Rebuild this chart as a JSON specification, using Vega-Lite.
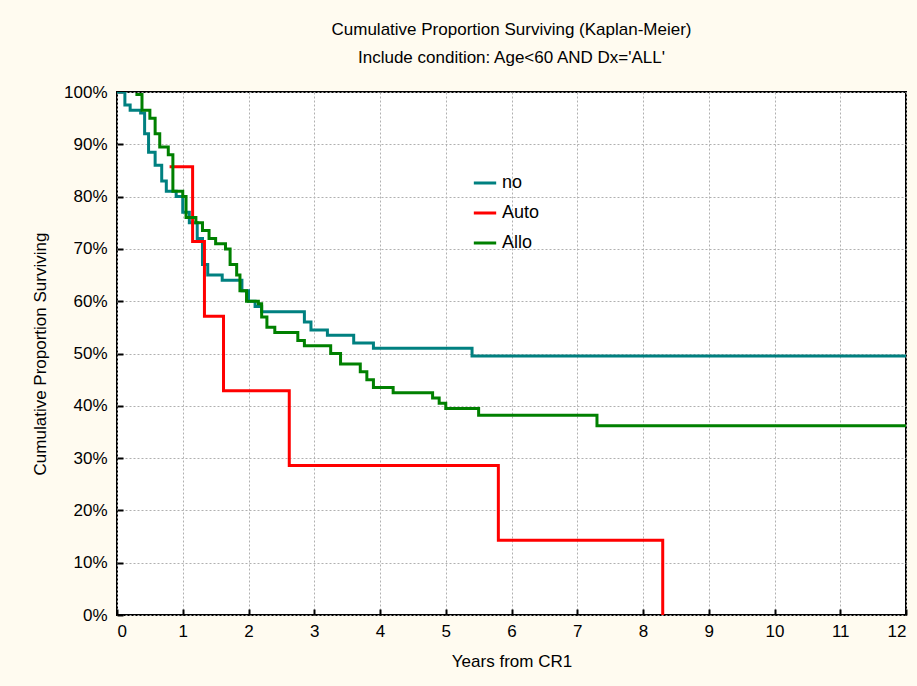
{
"$schema":"https://vega.github.io/schema/vega-lite/v6.json",
"width":789,"height":523,
"autosize":{"type":"none"},
"padding":{"left":117,"top":92,"right":11,"bottom":71},
"background":"#FFFBF0",
"config":{"view":{"stroke":"black","strokeWidth":2,"fill":"white"},"font":"Liberation Sans"},
"title":{"text":"Cumulative Proportion Surviving (Kaplan-Meier)","subtitle":"Include condition: Age<60 AND Dx='ALL'","fontSize":17,"fontWeight":"normal","subtitleFontSize":17,"color":"black","subtitleColor":"black","subtitlePadding":11,"offset":16,"anchor":"middle","font":"Liberation Sans","subtitleFont":"Liberation Sans"},
"data":{"values":[
{"g":"no","t":0,"s":100},{"g":"no","t":0.12,"s":97.5},{"g":"no","t":0.2,"s":96.5},{"g":"no","t":0.36,"s":96},{"g":"no","t":0.42,"s":92},{"g":"no","t":0.48,"s":88.5},{"g":"no","t":0.58,"s":86},{"g":"no","t":0.68,"s":83},{"g":"no","t":0.75,"s":81},{"g":"no","t":0.9,"s":80},{"g":"no","t":1.0,"s":77},{"g":"no","t":1.1,"s":75},{"g":"no","t":1.22,"s":72},{"g":"no","t":1.3,"s":67},{"g":"no","t":1.38,"s":65},{"g":"no","t":1.6,"s":64},{"g":"no","t":1.9,"s":62},{"g":"no","t":2.0,"s":60},{"g":"no","t":2.1,"s":59},{"g":"no","t":2.2,"s":58},{"g":"no","t":2.85,"s":56},{"g":"no","t":2.95,"s":54.5},{"g":"no","t":3.2,"s":53.5},{"g":"no","t":3.6,"s":52},{"g":"no","t":3.9,"s":51},{"g":"no","t":5.4,"s":49.5},{"g":"no","t":12,"s":49.5},
{"g":"Auto","t":0.8,"s":85.7},{"g":"Auto","t":1.15,"s":71.4},{"g":"Auto","t":1.33,"s":57.1},{"g":"Auto","t":1.62,"s":42.9},{"g":"Auto","t":2.62,"s":28.6},{"g":"Auto","t":5.8,"s":14.3},{"g":"Auto","t":8.3,"s":0},
{"g":"Allo","t":0.28,"s":99.5},{"g":"Allo","t":0.38,"s":96.5},{"g":"Allo","t":0.5,"s":95},{"g":"Allo","t":0.58,"s":92},{"g":"Allo","t":0.65,"s":89.5},{"g":"Allo","t":0.78,"s":88},{"g":"Allo","t":0.85,"s":81},{"g":"Allo","t":1.0,"s":80},{"g":"Allo","t":1.05,"s":76},{"g":"Allo","t":1.2,"s":75},{"g":"Allo","t":1.3,"s":73.5},{"g":"Allo","t":1.4,"s":72},{"g":"Allo","t":1.5,"s":71},{"g":"Allo","t":1.65,"s":70},{"g":"Allo","t":1.72,"s":67},{"g":"Allo","t":1.82,"s":65},{"g":"Allo","t":1.87,"s":62},{"g":"Allo","t":1.97,"s":60},{"g":"Allo","t":2.15,"s":59.5},{"g":"Allo","t":2.2,"s":57},{"g":"Allo","t":2.28,"s":55},{"g":"Allo","t":2.4,"s":54},{"g":"Allo","t":2.75,"s":52.5},{"g":"Allo","t":2.85,"s":51.5},{"g":"Allo","t":3.25,"s":50},{"g":"Allo","t":3.4,"s":48},{"g":"Allo","t":3.7,"s":46.5},{"g":"Allo","t":3.8,"s":45},{"g":"Allo","t":3.9,"s":43.5},{"g":"Allo","t":4.2,"s":42.5},{"g":"Allo","t":4.8,"s":41.5},{"g":"Allo","t":4.9,"s":40.5},{"g":"Allo","t":5.0,"s":39.5},{"g":"Allo","t":5.5,"s":38.2},{"g":"Allo","t":7.3,"s":36.2},{"g":"Allo","t":12,"s":36.2}
]},
"mark":{"type":"line","interpolate":"step-after","strokeWidth":3,"clip":true},
"encoding":{
"x":{"field":"t","type":"quantitative","scale":{"domain":[0,12],"nice":false},"axis":{"values":[0,1,2,3,4,5,6,7,8,9,10,11,12],"title":"Years from CR1","titleFontSize":17,"titleFontWeight":"normal","titlePadding":14,"labelFontSize":17,"labelPadding":14,"labelColor":"black","titleColor":"black","tickColor":"black","domain":false,"gridDash":[2,2],"gridColor":"#b0b0b0","tickSize":-6,"tickWidth":2}},
"y":{"field":"s","type":"quantitative","scale":{"domain":[0,100],"nice":false},"axis":{"values":[0,10,20,30,40,50,60,70,80,90,100],"labelExpr":"datum.value+'%'","title":"Cumulative Proportion Surviving","titleFontSize":17,"titleFontWeight":"normal","titlePadding":14,"labelFontSize":17,"labelPadding":16,"labelColor":"black","titleColor":"black","tickColor":"black","domain":false,"gridDash":[2,2],"gridColor":"#b0b0b0","tickSize":-6,"tickWidth":2}},
"color":{"field":"g","type":"nominal","scale":{"domain":["no","Auto","Allo"],"range":["#008080","#FF0000","#008000"]},"legend":{"title":null,"orient":"none","legendX":355,"legendY":78,"symbolType":"stroke","symbolStrokeWidth":3,"symbolSize":500,"labelFontSize":18,"labelColor":"black","rowPadding":8}}
}
}
